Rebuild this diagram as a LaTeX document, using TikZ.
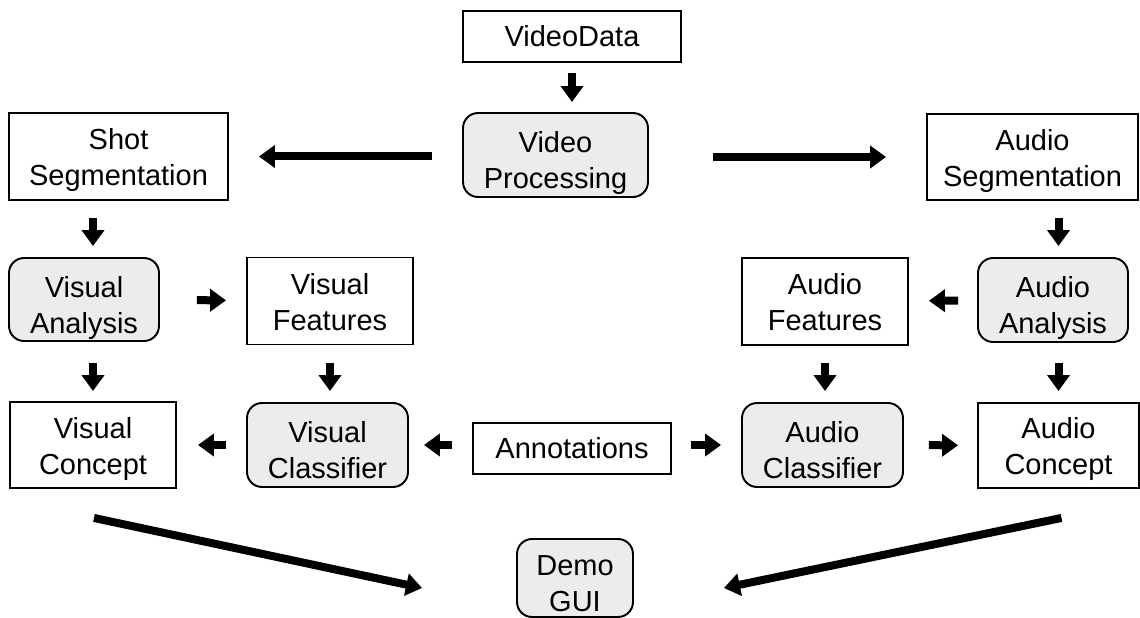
\documentclass[tikz,border=0pt]{standalone}
\usepackage{fontspec}
\setmainfont{Liberation Sans}
\usetikzlibrary{arrows.meta,calc}

\begin{document}
\begin{tikzpicture}[x=0.02cm,y=-0.02cm,font=\fontsize{16.5}{20.5}\selectfont,
  box/.style={draw,line width=1.1pt,align=center,inner sep=0pt},
  tbox/.style={box,text height=33.4pt,text depth=0pt},
  rbox/.style={box,rounded corners=0.3cm,fill=gray!15,text height=38.6pt,text depth=0pt},
  arr/.style={line width=0.16cm,-{Triangle[width=0.44cm,length=0.32cm]}}]
 \useasboundingbox (0,0) rectangle (1140,618);
 % top
 \node[box,minimum width=4.36cm,minimum height=1.02cm] (vd) at (572,36.5) {VideoData};
 \node[rbox,minimum width=3.7cm,minimum height=1.68cm] (vp) at (555.5,155) {Video\\Processing};
 \node[tbox,minimum width=4.38cm,minimum height=1.74cm] (ss) at (118.5,156.5) {Shot\\Segmentation};
 \node[tbox,minimum width=4.22cm,minimum height=1.72cm] (as) at (1032.5,157) {Audio\\Segmentation};
 % analysis and features
 \node[rbox,minimum width=3cm,minimum height=1.66cm] (va) at (84,299.5) {Visual\\Analysis};
 \node[tbox,minimum width=3.32cm,minimum height=1.74cm] (vf) at (330,301) {Visual\\Features};
 \node[tbox,minimum width=3.32cm,minimum height=1.74cm] (af) at (825,301.5) {Audio\\Features};
 \node[rbox,minimum width=3cm,minimum height=1.68cm] (aa) at (1053,300) {Audio\\Analysis};
 % classifiers and concepts
 \node[tbox,minimum width=3.32cm,minimum height=1.72cm] (vcon) at (93,445) {Visual\\Concept};
 \node[rbox,minimum width=3.22cm,minimum height=1.68cm] (vcls) at (327.5,445) {Visual\\Classifier};
 \node[box,minimum width=3.96cm,minimum height=1.02cm] (ann) at (572,448.5) {Annotations};
 \node[rbox,minimum width=3.22cm,minimum height=1.68cm] (acls) at (822.5,445) {Audio\\Classifier};
 \node[tbox,minimum width=3.22cm,minimum height=1.7cm] (acon) at (1058.5,445.5) {Audio\\Concept};
 \node[rbox,minimum width=2.32cm,minimum height=1.56cm] (demo) at (575,578) {Demo\\GUI};
 % arrows
 \draw[arr,shorten <=0.2cm,shorten >=0.2cm] (vd.south) -- (vd.south |- vp.north);
 \draw[arr,shorten <=0.6cm,shorten >=0.6cm] (vp.west |- ss.east) -- (ss.east);
 \draw[arr,shorten <=1.28cm,shorten >=0.8cm] (vp.east |- as.west) -- (as.west);
 \draw[arr,shorten <=0.34cm,shorten >=0.22cm] (ss.south -| vcon) -- (va.north -| vcon);
 \draw[arr,shorten <=0.34cm,shorten >=0.22cm] (as.south -| acon) -- (aa.north -| acon);
 \draw[arr,shorten <=0.74cm,shorten >=0.4cm] (va) -- (vf);
 \draw[arr,shorten <=0.38cm,shorten >=0.4cm] (aa) -- (af);
 \draw[arr,shorten <=0.42cm,shorten >=0.2cm] (va.south -| vcon) -- (vcon);
 \draw[arr,shorten <=0.36cm,shorten >=0.22cm] (vf.south) -- (vf.south |- vcls.north);
 \draw[arr,shorten <=0.34cm,shorten >=0.22cm] (af.south) -- (af.south |- acls.north);
 \draw[arr,shorten <=0.4cm,shorten >=0.22cm] (aa.south -| acon) -- (acon);
 \draw[arr,shorten <=0.4cm,shorten >=0.42cm] (vcls) -- (vcon);
 \draw[arr,shorten <=0.4cm,shorten >=0.3cm] (vcls.east -| ann.west) -- (vcls.east);
 \draw[arr,shorten <=0.38cm,shorten >=0.4cm] (acls.west -| ann.east) -- (acls.west);
 \draw[arr,shorten <=0.5cm,shorten >=0.38cm] (acls) -- (acon);
 \draw[arr] ($(vcon.south)+(1,29)$) -- ($(demo.west)+(-94,10)$);
 \draw[arr] ($(acon.south)+(3,29)$) -- ($(demo.east)+(90,10)$);
\end{tikzpicture}
\end{document}
